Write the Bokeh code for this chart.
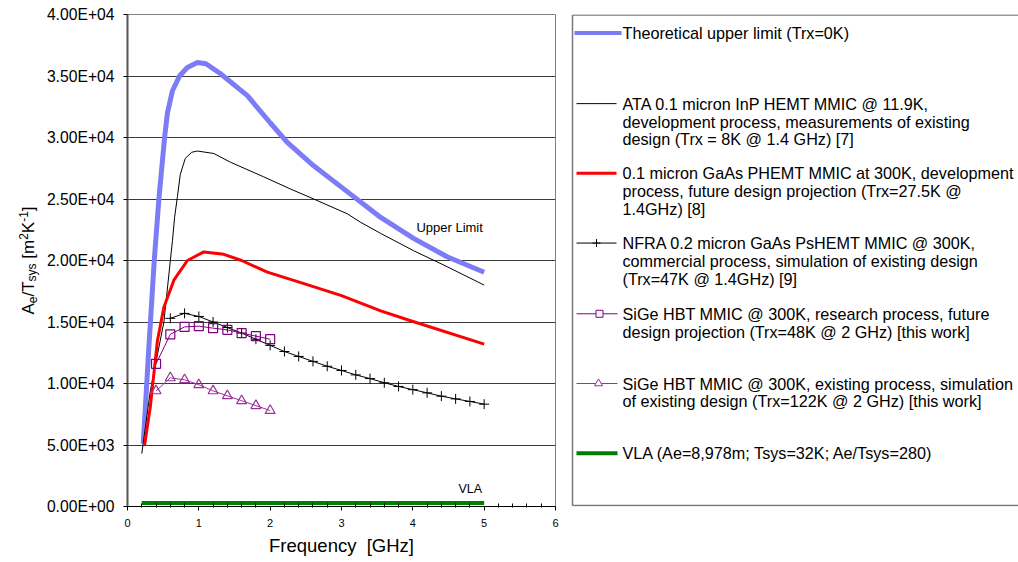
import math
from bokeh.plotting import figure
from bokeh.models import Range1d, FixedTicker
from bokeh.layouts import row
from bokeh.embed import file_html
from bokeh.resources import INLINE
from bokeh.core.properties import value

# ---------------- data ----------------
theory_freq = [0.22, 0.25, 0.30, 0.375, 0.44, 0.52, 0.56, 0.63, 0.73, 0.84, 0.98, 1.10, 1.30, 1.68, 2.00,
               2.24, 2.61, 3.08, 3.55, 4.01, 4.48, 5.00]
theory_val = [5100, 8000, 13000, 20000, 25000, 30000, 32000, 33800, 35000, 35700, 36100, 36000, 35200, 33400,
              31200, 29600, 27700, 25600, 23500, 21800, 20300, 19050]

ata_freq = [0.20, 0.32, 0.51, 0.63, 0.66, 0.70, 0.74, 0.81, 0.90, 0.98, 1.21, 1.44, 1.91, 2.29, 2.61, 3.08,
            3.27, 3.55, 4.01, 4.48, 5.00]
ata_val = [4300, 9400, 15000, 21600, 23500, 25200, 27000, 28300, 28800, 28900, 28700, 28000, 26800, 25800,
           25000, 23800, 23100, 22200, 20800, 19500, 18000]

gaas_freq = [0.24, 0.32, 0.42, 0.51, 0.65, 0.84, 1.07, 1.35, 1.60, 1.96, 2.43, 3.00, 3.55, 3.97, 5.00]
gaas_val = [5000, 8100, 13500, 16200, 18400, 20000, 20700, 20500, 20000, 19050, 18200, 17150, 15900, 15100,
            13200]

nfra_freq = [0.6, 0.8, 1.0, 1.2, 1.4, 1.6, 1.8, 2.0, 2.2, 2.4, 2.6, 2.8, 3.0, 3.2, 3.4, 3.6, 3.8, 4.0, 4.2,
             4.4, 4.6, 4.8, 5.0]
nfra_val = [15300, 15700, 15450, 15000, 14550, 14100, 13600, 13100, 12600, 12200, 11800, 11400, 11060, 10700,
            10400, 10060, 9760, 9500, 9240, 8970, 8750, 8540, 8320]

sige_res_freq = [0.4, 0.6, 0.8, 1.0, 1.2, 1.4, 1.6, 1.8, 2.0]
sige_res_val = [11600, 14000, 14600, 14660, 14500, 14360, 14100, 13850, 13600]

sige_ex_freq = [0.4, 0.6, 0.8, 1.0, 1.2, 1.4, 1.6, 1.8, 2.0]
sige_ex_val = [9400, 10460, 10300, 9900, 9400, 9000, 8600, 8200, 7800]

vla_freq = [0.2, 5.0]
vla_val = [280, 280]

x_ticks = [0, 1, 2, 3, 4, 5, 6]
x_minor_ticks = [0.2, 0.4, 0.6, 0.8, 1.2, 1.4, 1.6, 1.8, 2.2, 2.4, 2.6, 2.8, 3.2, 3.4, 3.6, 3.8,
                 4.2, 4.4, 4.6, 4.8, 5.2, 5.4, 5.6, 5.8]
y_ticks = [0, 5000, 10000, 15000, 20000, 25000, 30000, 35000, 40000]
y_tick_labels = ["0.00E+00", "5.00E+03", "1.00E+04", "1.50E+04", "2.00E+04", "2.50E+04", "3.00E+04",
                 "3.50E+04", "4.00E+04"]

legend_lines = [
    ["Theoretical upper limit (Trx=0K)"],
    ["ATA 0.1 micron InP HEMT MMIC @ 11.9K,", "development process, measurements of existing",
     "design (Trx = 8K @ 1.4 GHz) [7]"],
    ["0.1 micron GaAs PHEMT MMIC at 300K, development", "process, future design projection (Trx=27.5K @",
     "1.4GHz) [8]"],
    ["NFRA 0.2 micron GaAs PsHEMT MMIC @ 300K,", "commercial process, simulation of existing design",
     "(Trx=47K @ 1.4GHz) [9]"],
    ["SiGe HBT MMIC @ 300K, research process, future", "design projection (Trx=48K @ 2 GHz) [this work]"],
    ["SiGe HBT MMIC @ 300K, existing process, simulation", "of existing design (Trx=122K @ 2 GHz) [this work]"],
    ["VLA (Ae=8,978m; Tsys=32K; Ae/Tsys=280)"],
]

FONT = "Liberation Sans"
BLUE = "#7b7cf6"
RED = "#ff0000"
PURPLE = "#800080"
PURPLE2 = "#993399"
GREEN = "#008000"

H = 560          # figure height (page has no margin)
TOP = 14         # page y of frame top
BOT = 506        # page y of frame bottom
BB = H - BOT     # bottom border

# ---------------- main chart ----------------
p = figure(width=530, height=H, x_range=Range1d(0, 6), y_range=Range1d(0, 40000),
           output_backend="svg", toolbar_location=None,
           min_border_left=87, min_border_right=15, min_border_top=TOP, min_border_bottom=BB)
p.outline_line_color = "#808080"
p.outline_line_width = 1
p.background_fill_color = "white"
p.border_fill_color = "white"

p.xgrid.visible = False
p.ygrid.ticker = FixedTicker(ticks=y_ticks)
p.ygrid.grid_line_color = "#3a3a3a"
p.ygrid.grid_line_width = 1

xa = p.xaxis[0]
xa.ticker = FixedTicker(ticks=x_ticks, minor_ticks=x_minor_ticks)
xa.axis_line_color = "black"
xa.axis_line_width = 1
xa.major_tick_in = 0
xa.major_tick_out = 4
xa.minor_tick_in = 3
xa.minor_tick_out = 1
xa.major_tick_line_color = "black"
xa.minor_tick_line_color = "black"
xa.major_label_text_font = FONT
xa.major_label_text_font_size = "11px"
xa.major_label_text_color = "black"
xa.major_label_standoff = 8
xa.axis_label = "Frequency \u00a0[GHz]"
xa.axis_label_text_font = FONT
xa.axis_label_text_font_size = "18.5px"
xa.axis_label_text_font_style = "normal"
xa.axis_label_text_color = "black"
xa.axis_label_standoff = 5

ya = p.yaxis[0]
ya.ticker = FixedTicker(ticks=y_ticks)
ya.major_label_overrides = {t: lab for t, lab in zip(y_ticks, y_tick_labels)}
ya.axis_line_color = "#555555"
ya.axis_line_width = 2
ya.major_tick_in = 0
ya.major_tick_out = 4
ya.minor_tick_line_color = None
ya.major_tick_line_color = "black"
ya.major_label_text_font = FONT
ya.major_label_text_font_size = "15.7px"
ya.major_label_text_color = "black"
ya.major_label_standoff = 9

p.line(theory_freq, theory_val, line_color=BLUE, line_width=5)
p.line(ata_freq, ata_val, line_color="black", line_width=1)
p.line(gaas_freq, gaas_val, line_color=RED, line_width=3)
p.line(nfra_freq, nfra_val, line_color="black", line_width=1)
p.scatter(nfra_freq, nfra_val, marker="cross", size=10, line_color="black", line_width=1)
p.line(sige_res_freq, sige_res_val, line_color=PURPLE, line_width=1)
p.scatter(sige_res_freq, sige_res_val, marker="square", size=9, line_color=PURPLE, fill_color=None,
          line_width=1.2)
p.line(sige_ex_freq, sige_ex_val, line_color=PURPLE2, line_width=1)
p.scatter(sige_ex_freq, sige_ex_val, marker="triangle", size=10, line_color=PURPLE2, fill_color=None,
          line_width=1.2)
p.line(vla_freq, vla_val, line_color=GREEN, line_width=4)

p.text(x=[4.05], y=[22700], text=["Upper Limit"], text_font=value(FONT), text_font_size="13px",
       text_align="left", text_baseline="middle", text_color="black")
p.text(x=[4.64], y=[1450], text=["VLA"], text_font=value(FONT), text_font_size="12.5px",
       text_align="left", text_baseline="middle", text_color="black")

# ---------------- y-axis title (with sub/superscripts) ----------------
yl = figure(width=40, height=H, x_range=Range1d(0, 40), y_range=Range1d(BOT, TOP),
            output_backend="svg", toolbar_location=None, x_axis_type=None, y_axis_type=None,
            min_border_left=0, min_border_right=0, min_border_top=TOP, min_border_bottom=BB)
yl.outline_line_color = None
yl.grid.visible = False

arial_w = {'A': 667, 'e': 556, '/': 278, 'T': 611, 's': 500, 'y': 500, ' ': 278, '[': 278, 'm': 833,
           '2': 556, 'K': 667, '-': 333, '1': 556, ']': 278}
BASE, SMALL = 17, 12
pieces = [("A", BASE, 0.0), ("e", SMALL, 3.5), ("/T", BASE, 0.0), ("sys", SMALL, 3.5), (" [m", BASE, 0.0),
          ("2", SMALL, -5.0), ("K", BASE, 0.0), ("-1", SMALL, -5.0), ("]", BASE, 0.0)]
advs = [sum(arial_w[c] for c in s) * fs / 1000.0 for s, fs, _ in pieces]
total = sum(advs)
start = 260 + total / 2.0
cum = 0.0
for (s, fs, shift), adv in zip(pieces, advs):
    lead = len(s) - len(s.lstrip(" "))
    offset = lead * arial_w[' '] * fs / 1000.0
    yl.text(x=[28.3 + shift], y=[start - cum - offset], text=[s.strip(" ")], angle=math.pi / 2,
            text_font=value(FONT), text_font_size=f"{fs}px", text_align="left",
            text_baseline="alphabetic", text_color="black")
    cum += adv

# ---------------- legend panel ----------------
leg = figure(width=448, height=H, x_range=Range1d(570, 1018), y_range=Range1d(BOT + 0.5, TOP - 1.5),
             output_backend="svg", toolbar_location=None, x_axis_type=None, y_axis_type=None,
             min_border_left=0, min_border_right=0, min_border_top=TOP, min_border_bottom=BB)
leg.outline_line_color = None
leg.grid.visible = False

leg.segment(x0=[572, 572, 572], y0=[13, 13, 505.5], x1=[572, 1020, 1020], y1=[505.5, 13, 505.5],
            line_color="#777777", line_width=1.5)

first_y = [31, 102, 172, 242, 313, 383, 453]
pitch = 18
tx, ty, tt = [], [], []
for lines, y0 in zip(legend_lines, first_y):
    for i, ln in enumerate(lines):
        tx.append(622)
        ty.append(y0 + i * pitch)
        tt.append(ln)
leg.text(x=tx, y=ty, text=tt, text_font=value(FONT), text_font_size="16.2px", text_align="left",
         text_baseline="middle", text_color="black")

# legend samples
leg.line([574, 621], [first_y[0], first_y[0]], line_color=BLUE, line_width=4)
leg.line([576, 616], [first_y[1], first_y[1]], line_color="black", line_width=1)
leg.line([576, 616], [first_y[2], first_y[2]], line_color=RED, line_width=3)
leg.line([576, 616], [first_y[3], first_y[3]], line_color="black", line_width=1)
leg.scatter([596], [first_y[3]], marker="cross", size=8, line_color="black")
leg.line([576, 617], [first_y[4], first_y[4]], line_color=PURPLE, line_width=1)
leg.scatter([599], [first_y[4]], marker="square", size=7, line_color=PURPLE, fill_color="white")
leg.line([576, 617], [first_y[5], first_y[5]], line_color=PURPLE2, line_width=1)
leg.scatter([598], [first_y[5]], marker="triangle", size=8, line_color=PURPLE2, fill_color="white")
leg.line([576, 617], [first_y[6], first_y[6]], line_color=GREEN, line_width=4)

layout = row(yl, p, leg)
open("out.html", "w").write(file_html(layout, INLINE))
